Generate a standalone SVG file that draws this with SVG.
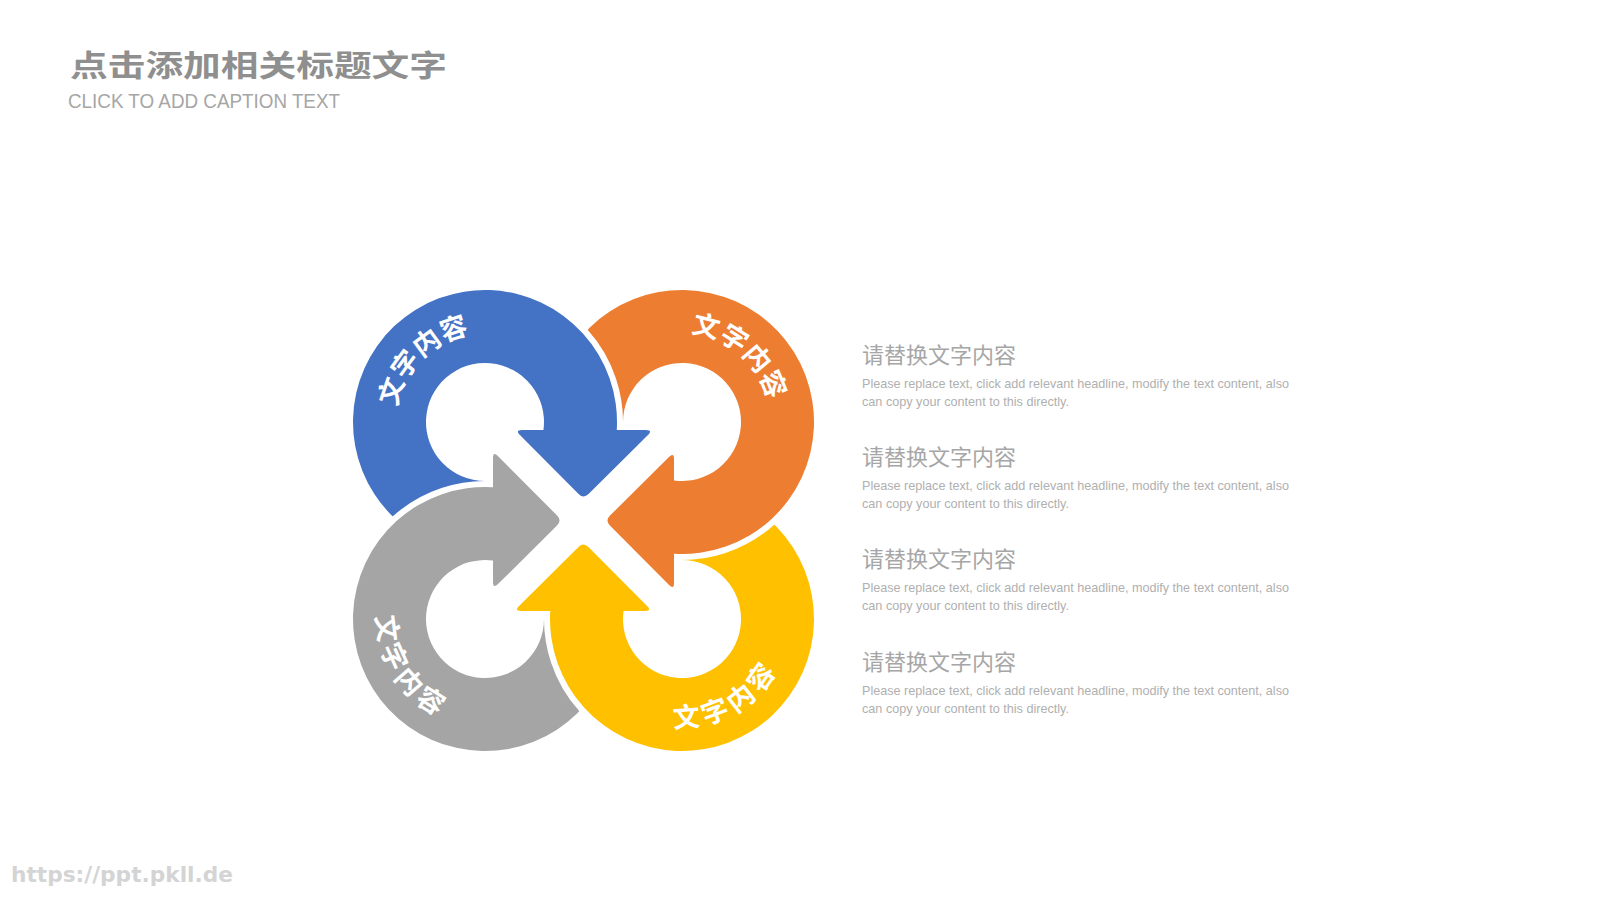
<svg xmlns="http://www.w3.org/2000/svg" xmlns:xlink="http://www.w3.org/1999/xlink" width="1600" height="900" viewBox="0 0 1600 900">
  <style>
    .arrow { stroke: #ffffff; stroke-width: 12; stroke-linejoin: round; paint-order: stroke; }
    .lbl { font-family: "Noto Sans CJK SC", "Noto Sans", sans-serif; font-size: 27px; font-weight: bold; fill: #ffffff; }
    .head { font-family: "Noto Sans CJK SC", "Noto Sans", sans-serif; font-size: 22px; fill: #a6a6a6; }
    .body { font-family: "Liberation Sans", Arial, sans-serif; font-size: 13px; fill: #b0b0b0; }
  </style>
  <defs>
    <path id="arrow" d="M 522 430 L 543.45 430 A 59 59 0 1 0 485 481 L 485 554 A 132 132 0 1 1 616.76 430 L 646 430 Q 653 430 648 434.9 L 588.5 494.1 Q 583.5 499 578.6 494 L 519.9 435 Q 515 430 522 430 Z"/>
    <path id="tpBlue" d="M 396.34 429.74 A 89 89 0 0 1 492.76 333.34"/>
    <path id="tpOrange" d="M 668.08 334.10 A 89 89 0 0 1 770.99 423.55"/>
    <path id="tpYellow" d="M 644.18 720.17 A 108 108 0 0 0 788.19 638.68"/>
    <path id="tpGray" d="M 382.00 586.52 A 108 108 0 0 0 470.90 726.08"/>
    <clipPath id="clipTop">
      <rect x="520" y="270" width="200" height="170"/>
    </clipPath>
  </defs>

  <rect x="0" y="0" width="1600" height="900" fill="#ffffff"/>

  <g id="title">
    <text x="70" y="76" font-family="'Noto Sans CJK SC', sans-serif" font-size="30" font-weight="bold" fill="#8f8f8f" textLength="377" lengthAdjust="spacingAndGlyphs">点击添加相关标题文字</text>
    <text x="68" y="108" font-family="'Liberation Sans', Arial, sans-serif" font-size="20" fill="#a6a6a6" textLength="272" lengthAdjust="spacingAndGlyphs">CLICK TO ADD CAPTION TEXT</text>
  </g>

  <g id="connectors"></g>

  <g id="node-blue">
    <use href="#arrow" class="arrow" fill="#4472C4"/>
    <text class="lbl" letter-spacing="0.5"><textPath href="#tpBlue" startOffset="50%" text-anchor="middle">文字内容</textPath></text>
  </g>

  <g id="node-gray">
    <use href="#arrow" class="arrow" fill="#A5A5A5" transform="rotate(270 583.5 520.5)"/>
    <text class="lbl" letter-spacing="5"><textPath href="#tpGray" startOffset="50%" text-anchor="middle">文字内容</textPath></text>
  </g>

  <g id="node-yellow">
    <use href="#arrow" class="arrow" fill="#FFC000" transform="rotate(180 583.5 520.5)"/>
    <text class="lbl" letter-spacing="5"><textPath href="#tpYellow" startOffset="50%" text-anchor="middle">文字内容</textPath></text>
  </g>

  <g id="node-orange">
    <use href="#arrow" class="arrow" fill="#ED7D31" transform="rotate(90 583.5 520.5)"/>
    <text class="lbl" letter-spacing="0.5"><textPath href="#tpOrange" startOffset="50%" text-anchor="middle">文字内容</textPath></text>
  </g>

  <g id="node-blue-overlap">
    <use href="#arrow" class="arrow" fill="#4472C4" clip-path="url(#clipTop)"/>
  </g>

  <g id="text-1">
    <text class="head" x="862" y="363">请替换文字内容</text>
    <text class="body" x="862" y="388" textLength="427" lengthAdjust="spacingAndGlyphs">Please replace text, click add relevant headline, modify the text content, also</text>
    <text class="body" x="862" y="406" textLength="207" lengthAdjust="spacingAndGlyphs">can copy your content to this directly.</text>
  </g>
  <g id="text-2">
    <text class="head" x="862" y="465.2">请替换文字内容</text>
    <text class="body" x="862" y="490.2" textLength="427" lengthAdjust="spacingAndGlyphs">Please replace text, click add relevant headline, modify the text content, also</text>
    <text class="body" x="862" y="508.2" textLength="207" lengthAdjust="spacingAndGlyphs">can copy your content to this directly.</text>
  </g>
  <g id="text-3">
    <text class="head" x="862" y="567.4">请替换文字内容</text>
    <text class="body" x="862" y="592.4" textLength="427" lengthAdjust="spacingAndGlyphs">Please replace text, click add relevant headline, modify the text content, also</text>
    <text class="body" x="862" y="610.4" textLength="207" lengthAdjust="spacingAndGlyphs">can copy your content to this directly.</text>
  </g>
  <g id="text-4">
    <text class="head" x="862" y="669.6">请替换文字内容</text>
    <text class="body" x="862" y="694.6" textLength="427" lengthAdjust="spacingAndGlyphs">Please replace text, click add relevant headline, modify the text content, also</text>
    <text class="body" x="862" y="712.6" textLength="207" lengthAdjust="spacingAndGlyphs">can copy your content to this directly.</text>
  </g>

  <g id="watermark">
    <text x="11" y="882" font-family="'DejaVu Sans', sans-serif" font-size="21" font-weight="bold" fill="#d4d4d4" textLength="222" lengthAdjust="spacingAndGlyphs">https://ppt.pkll.de</text>
  </g>
</svg>
